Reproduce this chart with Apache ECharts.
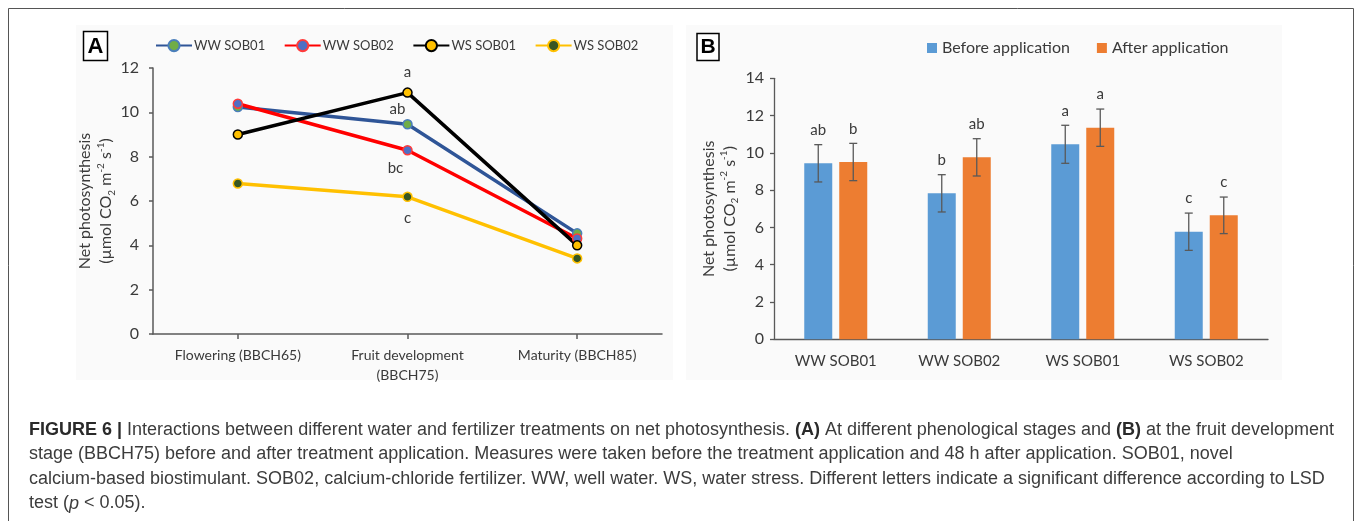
<!DOCTYPE html>
<html>
<head>
<meta charset="utf-8">
<script src="https://cdn.jsdelivr.net/npm/echarts@6/dist/echarts.min.js"></script>
<style>
  html, body { margin: 0; padding: 0; background: #ffffff; }
  #chart { width: 1357px; height: 521px; }
</style>
</head>
<body>
<div id="chart"></div>
<script>
// ---- Panel A: net photosynthesis across phenological stages ----
const stages = ['Flowering (BBCH65)', 'Fruit development\n(BBCH75)', 'Maturity (BBCH85)'];
const wwSob01 = [10.24, 9.46, 4.54];
const wwSob02 = [10.39, 8.29, 4.31];
const wsSob01 = [9.00, 10.89, 4.00];
const wsSob02 = [6.79, 6.19, 3.41];
const lettersWwSob01 = ['', 'ab', ''];
const lettersWwSob02 = ['', 'bc', ''];
const lettersWsSob01 = ['', 'a', ''];
const lettersWsSob02 = ['', 'c', ''];
const yTicksA = [0, 2, 4, 6, 8, 10, 12];

// ---- Panel B: fruit development stage, before / after application ----
const treatments = ['WW SOB01', 'WW SOB02', 'WS SOB01', 'WS SOB02'];
const beforeApp = [9.44, 7.83, 10.46, 5.77];
const afterApp = [9.51, 9.76, 11.35, 6.65];
const beforeErr = [1.00, 1.00, 1.02, 1.00];
const afterErr = [1.00, 1.00, 1.00, 0.98];
const beforeLetters = ['ab', 'b', 'a', 'c'];
const afterLetters = ['b', 'ab', 'a', 'c'];
const yTicksB = [0, 2, 4, 6, 8, 10, 12, 14];

// ---- caption ----
const captionLines = [
  '{b|FIGURE 6 |} Interactions between different water and fertilizer treatments on net photosynthesis. {b|(A)} At different phenological stages and {b|(B)} at the fruit development',
  'stage (BBCH75) before and after treatment application. Measures were taken before the treatment application and 48 h after application. SOB01, novel',
  'calcium-based biostimulant. SOB02, calcium-chloride fertilizer. WW, well water. WS, water stress. Different letters indicate a significant difference according to LSD',
  'test ({i|p} < 0.05).'
];

const FONT = 'Lato, "Open Sans", sans-serif';
const CAP_FONT = '"Liberation Sans", Arial, sans-serif';
const CAP_SIZE = 18;
const AXIS_COLOR = '#595959';
const TEXT_COLOR = '#3a3a3a';
const BAR_W = 28;
const BAR_GAP_PX = 7;

const chart = echarts.init(document.getElementById('chart'), null, { renderer: 'canvas' });

const yNameRich = {
  sub: { fontSize: 10, verticalAlign: 'bottom', lineHeight: 12, fontFamily: FONT, color: TEXT_COLOR },
  sup: { fontSize: 10, verticalAlign: 'top', lineHeight: 12, fontFamily: FONT, color: TEXT_COLOR }
};
const yName = 'Net photosynthesis\n(\u00b5mol CO{sub|2} m{sup|-2} s{sup|-1})';

function lineData(values, letters, labelStyle) {
  return values.map((v, i) => letters[i]
    ? { value: v, label: Object.assign({ show: true, formatter: letters[i], fontSize: 15, fontFamily: FONT, color: TEXT_COLOR }, labelStyle) }
    : v);
}

function lineSeries(name, values, letters, lineColor, markerFill, markerBorder, labelStyle) {
  return {
    type: 'line', name: name, xAxisIndex: 0, yAxisIndex: 0,
    data: lineData(values, letters, labelStyle),
    symbol: 'circle', symbolSize: 9,
    lineStyle: { color: lineColor, width: 3.5 },
    itemStyle: { color: markerFill, borderColor: markerBorder, borderWidth: 1.5 },
    label: { show: false },
    emphasis: { disabled: true }
  };
}

// whisker + significance letter on top of each bar
function errorBarSeries(name, values, errors, letters, side) {
  const shift = side * (BAR_W + BAR_GAP_PX) / 2;
  return {
    type: 'custom', name: name, xAxisIndex: 1, yAxisIndex: 1, z: 5, silent: true,
    data: values.map((v, i) => [i, v, errors[i]]),
    encode: { x: 0, y: 1 },
    renderItem: function (params, api) {
      const i = api.value(0), v = api.value(1), e = api.value(2);
      const hi = api.coord([i, v + e]);
      const lo = api.coord([i, v - e]);
      const x = hi[0] + shift;
      const cap = 4;
      const st = { stroke: '#595959', lineWidth: 1.3 };
      return {
        type: 'group',
        children: [
          { type: 'line', shape: { x1: x, y1: hi[1], x2: x, y2: lo[1] }, style: st },
          { type: 'line', shape: { x1: x - cap, y1: hi[1], x2: x + cap, y2: hi[1] }, style: st },
          { type: 'line', shape: { x1: x - cap, y1: lo[1], x2: x + cap, y2: lo[1] }, style: st },
          { type: 'text', x: x, y: hi[1] - 7,
            style: { text: letters[params.dataIndex], textAlign: 'center', textVerticalAlign: 'bottom',
                     font: '15px ' + FONT, fill: TEXT_COLOR } }
        ]
      };
    }
  };
}

const captionGraphics = captionLines.map((line, k) => ({
  type: 'text', x: 29, y: 430 + k * 24.5, z: 10,
  style: {
    text: line, fill: '#3c3c3c', textVerticalAlign: 'middle',
    font: CAP_SIZE + 'px ' + CAP_FONT,
    rich: {
      b: { fontWeight: 'bold', fontSize: CAP_SIZE, fontFamily: CAP_FONT, fill: '#2a2a2a' },
      i: { fontStyle: 'italic', fontSize: CAP_SIZE, fontFamily: CAP_FONT, fill: '#3c3c3c' }
    }
  }
}));

const option = {
  animation: false,
  backgroundColor: '#ffffff',
  graphic: [
    { type: 'rect', z: -10, shape: { x: 8.5, y: 8.5, width: 1345, height: 540 },
      style: { fill: '#ffffff', stroke: '#555555', lineWidth: 1 } },
    { type: 'rect', z: -9, shape: { x: 76, y: 25, width: 597, height: 355 }, style: { fill: '#fafafa' } },
    { type: 'rect', z: -9, shape: { x: 686, y: 25, width: 596, height: 355 }, style: { fill: '#fafafa' } },
    { type: 'rect', z: 10, shape: { x: 83.5, y: 31.5, width: 24, height: 29 },
      style: { fill: '#ffffff', stroke: '#000000', lineWidth: 1.5 } },
    { type: 'text', z: 11, x: 95.5, y: 46.5,
      style: { text: 'A', font: 'bold 22px "Liberation Sans", Arial, sans-serif', fill: '#000',
               textAlign: 'center', textVerticalAlign: 'middle' } },
    { type: 'rect', z: 10, shape: { x: 697, y: 33.5, width: 22, height: 27 },
      style: { fill: '#ffffff', stroke: '#000000', lineWidth: 1.5 } },
    { type: 'text', z: 11, x: 708, y: 47.5,
      style: { text: 'B', font: 'bold 21px "Liberation Sans", Arial, sans-serif', fill: '#000',
               textAlign: 'center', textVerticalAlign: 'middle' } }
  ].concat(captionGraphics),
  legend: [
    {
      left: 155, top: 39, padding: 0, itemWidth: 36, itemHeight: 14, itemGap: 18.5,
      data: ['WW SOB01', 'WW SOB02', 'WS SOB01', 'WS SOB02'],
      textStyle: { fontSize: 13, fontFamily: FONT, color: TEXT_COLOR, padding: [0, 0, 0, -3] },
      selectedMode: false
    },
    {
      left: 927, top: 40, padding: 0, icon: 'rect', itemWidth: 10, itemHeight: 10, itemGap: 27,
      data: ['Before application', 'After application'],
      textStyle: { fontSize: 16, fontFamily: FONT, color: TEXT_COLOR },
      selectedMode: false
    }
  ],
  grid: [
    { left: 153, top: 68, width: 509, height: 266 },
    { left: 774, top: 78.3, width: 494, height: 261 }
  ],
  xAxis: [
    {
      type: 'category', gridIndex: 0, data: stages, boundaryGap: true,
      axisLine: { lineStyle: { color: AXIS_COLOR, width: 1.5 } },
      axisTick: { show: true, alignWithLabel: true, length: 5, lineStyle: { color: AXIS_COLOR, width: 1.5 } },
      axisLabel: { fontSize: 14, fontFamily: FONT, color: TEXT_COLOR, margin: 11, lineHeight: 20 }
    },
    {
      type: 'category', gridIndex: 1, data: treatments, boundaryGap: true,
      axisLine: { lineStyle: { color: AXIS_COLOR, width: 1.3 } },
      axisTick: { show: false },
      axisLabel: { fontSize: 15, fontFamily: FONT, color: TEXT_COLOR, margin: 14 }
    }
  ],
  yAxis: [
    {
      type: 'value', gridIndex: 0, min: yTicksA[0], max: yTicksA[yTicksA.length - 1],
      interval: yTicksA[1] - yTicksA[0],
      name: yName, nameLocation: 'middle', nameGap: 23,
      nameTextStyle: { fontSize: 16, fontFamily: FONT, color: TEXT_COLOR, lineHeight: 21, rich: yNameRich },
      axisLine: { show: true, lineStyle: { color: AXIS_COLOR, width: 1.5 } },
      axisTick: { show: true, length: 4, lineStyle: { color: AXIS_COLOR, width: 1.5 } },
      splitLine: { show: false },
      axisLabel: { fontSize: 16, fontFamily: FONT, color: TEXT_COLOR, margin: 14 }
    },
    {
      type: 'value', gridIndex: 1, min: yTicksB[0], max: yTicksB[yTicksB.length - 1],
      interval: yTicksB[1] - yTicksB[0],
      name: yName, nameLocation: 'middle', nameGap: 34,
      nameTextStyle: { fontSize: 16, fontFamily: FONT, color: TEXT_COLOR, lineHeight: 21, rich: yNameRich },
      axisLine: { show: true, lineStyle: { color: AXIS_COLOR, width: 1.3 } },
      axisTick: { show: true, length: 4, lineStyle: { color: AXIS_COLOR, width: 1.3 } },
      splitLine: { show: false },
      axisLabel: { fontSize: 16, fontFamily: FONT, color: TEXT_COLOR, margin: 10 }
    }
  ],
  series: [
    lineSeries('WW SOB01', wwSob01, lettersWwSob01, '#2f5597', '#70ad47', '#4a7ebb', { position: 'top', offset: [-10, 3] }),
    lineSeries('WW SOB02', wwSob02, lettersWwSob02, '#ff0000', '#4f6fc4', '#ff3b3b', { position: 'bottom', offset: [-12, 0] }),
    lineSeries('WS SOB01', wsSob01, lettersWsSob01, '#000000', '#ffc000', '#000000', { position: 'top', offset: [0, -3] }),
    lineSeries('WS SOB02', wsSob02, lettersWsSob02, '#ffc000', '#375623', '#ffc000', { position: 'bottom', offset: [0, 4] }),
    {
      type: 'bar', name: 'Before application', xAxisIndex: 1, yAxisIndex: 1,
      data: beforeApp, barWidth: BAR_W, barGap: (BAR_GAP_PX / BAR_W * 100) + '%',
      itemStyle: { color: '#5b9bd5' }, emphasis: { disabled: true }
    },
    {
      type: 'bar', name: 'After application', xAxisIndex: 1, yAxisIndex: 1,
      data: afterApp, barWidth: BAR_W, barGap: (BAR_GAP_PX / BAR_W * 100) + '%',
      itemStyle: { color: '#ed7d31' }, emphasis: { disabled: true }
    },
    errorBarSeries('err-before', beforeApp, beforeErr, beforeLetters, -1),
    errorBarSeries('err-after', afterApp, afterErr, afterLetters, 1)
  ]
};

chart.setOption(option);
</script>
</body>
</html>
